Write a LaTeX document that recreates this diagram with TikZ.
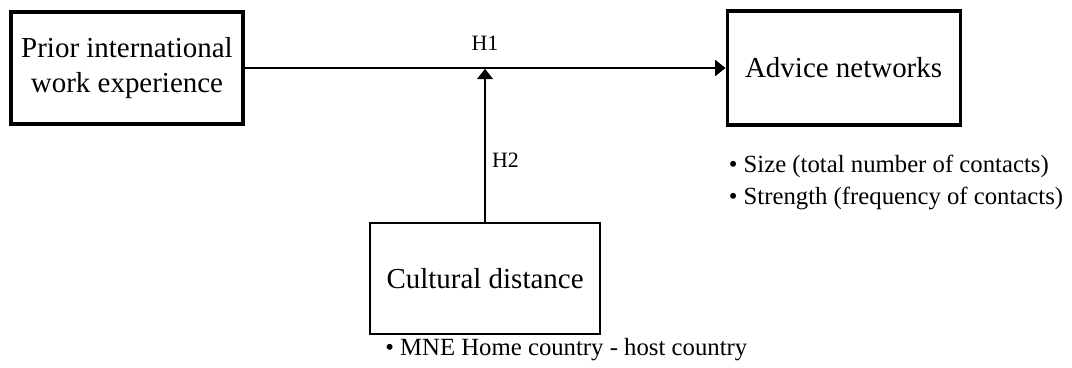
\documentclass[tikz,border=0pt]{standalone}
\usepackage{fontspec}
\setmainfont{Liberation Serif}
\usetikzlibrary{positioning, arrows.meta, calc}
\tikzset{
  % --- construct boxes ---
  construct/.style={draw, rectangle, line width=2.2pt, align=center,
    font=\fontsize{20.6}{24.5}\selectfont, inner sep=2pt},
  moderator/.style={construct, line width=1.4pt},
  % --- measures listed under a box ---
  measure/.style={align=left, font=\fontsize{17.6}{22.7}\selectfont, inner sep=0pt},
  % --- hypotheses ---
  hyp/.style={-{Triangle[length=2.6mm, width=4mm]}, line width=1.3pt},
  hyplabel/.style={font=\fontsize{15.6}{18}\selectfont},
}

\begin{document}
\begin{tikzpicture}
    \useasboundingbox (0,0) rectangle (26.8,-9.175);
    % ---- Constructs ----
    \node[construct, minimum width=5.8cm, minimum height=2.8cm] (pwe) at (3.175,-1.7)
      {Prior international\\work experience};
    \node[construct, minimum width=5.825cm, minimum height=2.85cm, right=12.025cm of pwe] (adv)
      {Advice networks};
    \coordinate (mod) at ($(pwe.east)!0.5!(adv.west)$);
    \node[moderator, minimum width=5.75cm, minimum height=2.775cm, below=3.85cm of mod] (cult)
      {Cultural distance};
    % ---- Measures ----
    \node[measure, below right=0.7cm and 0.075cm of adv.south west] (advm)
      {\textbullet\ Size (total number of contacts)\\\textbullet\ Strength (frequency of contacts)};
    \node[measure, below right=0.08cm and 0.4cm of cult.south west] (cultm)
      {\textbullet\ MNE Home country - host country};
    % ---- Hypotheses ----
    \draw[hyp] (pwe.east) -- (pwe.east -| adv.west) node[midway, above=0.3cm, hyplabel] {H1};
    \draw[hyp, shorten >=0.6pt] (cult.north) -- (mod) node[pos=0.4, right=1pt, hyplabel] {H2};
\end{tikzpicture}
\end{document}
